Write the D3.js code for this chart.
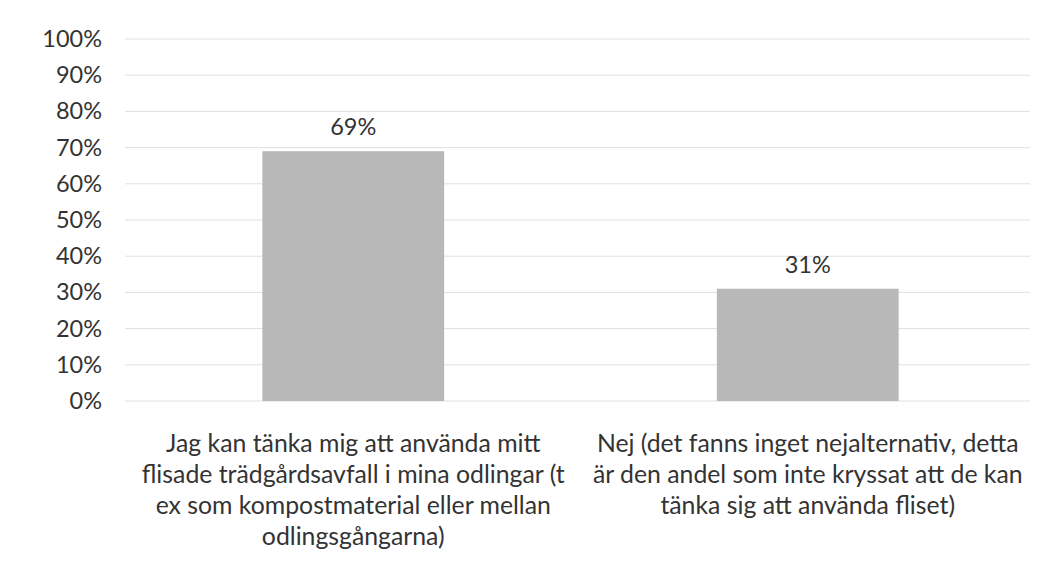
<!DOCTYPE html>
<html><head><meta charset="utf-8">
<script src="https://cdn.jsdelivr.net/npm/d3@7"></script>
<style>
body{margin:0;background:#fff;}
text{font-family:Lato,"Open Sans",sans-serif;fill:#333;}
</style></head>
<body><svg id="c" width="1061" height="580"></svg>
<script>
const categories = ["Ja", "Nej"];
const values = [0.69, 0.31];
const valueLabels = ["69%", "31%"];
const categoryLines = [
  ["Jag kan tänka mig att använda mitt", "flisade trädgårdsavfall i mina odlingar (t", "ex som kompostmaterial eller mellan", "odlingsgångarna)"],
  ["Nej (det fanns inget nejalternativ, detta", "är den andel som inte kryssat att de kan", "tänka sig att använda fliset)"]
];
const yTicks = [0,0.1,0.2,0.3,0.4,0.5,0.6,0.7,0.8,0.9,1.0];

(function(){
const svg = d3.select("#c");
const gLeft = 125, gRight = 1030, mTop = 39, mBottom = 401;
const x = d3.scaleBand().domain(categories).range([126, 1035]).paddingInner(0.6).paddingOuter(0.3);
const y = d3.scaleLinear().domain([0,1]).range([mBottom, mTop]);

svg.append("g").selectAll("line").data(yTicks).join("line")
  .attr("x1", gLeft).attr("x2", gRight)
  .attr("y1", d => y(d)).attr("y2", d => y(d))
  .attr("stroke", "#e0e0e0").attr("stroke-width", 1);

const yAxis = d3.axisLeft(y).tickValues(yTicks).tickFormat(d3.format(".0%")).tickSize(0).tickPadding(0);
const ga = svg.append("g").attr("transform", `translate(102,0)`).call(yAxis);
ga.select(".domain").remove();
ga.selectAll("text").attr("font-size", 23.5).attr("fill", "#333").style("font-family","Lato");

svg.append("g").selectAll("rect").data(values).join("rect")
  .attr("x", (d,i) => x(categories[i]))
  .attr("width", x.bandwidth())
  .attr("y", d => y(d))
  .attr("height", d => y(0) - y(d))
  .attr("fill", "#b8b8b8");

svg.append("g").selectAll("text").data(values).join("text")
  .attr("x", (d,i) => x(categories[i]) + x.bandwidth()/2)
  .attr("y", d => y(d) - 16)
  .attr("text-anchor", "middle")
  .attr("font-size", 23.5)
  .text((d,i) => valueLabels[i]);

const cl = svg.append("g");
categories.forEach((c, i) => {
  const t = cl.append("text")
    .attr("x", x(c) + x.bandwidth()/2)
    .attr("y", 452)
    .attr("text-anchor", "middle")
    .attr("font-size", 24.8);
  categoryLines[i].forEach((ln, j) => {
    t.append("tspan").attr("x", x(c) + x.bandwidth()/2).attr("dy", j === 0 ? 0 : 31).text(ln);
  });
});
})();
</script></body></html>
